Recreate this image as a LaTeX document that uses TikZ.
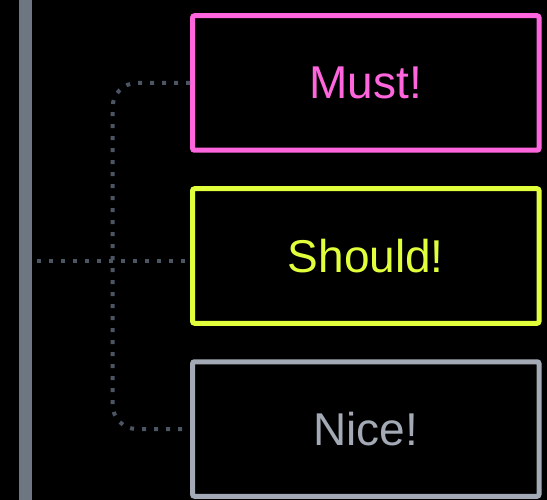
\documentclass[tikz,border=0pt]{standalone}
\usepackage{fontspec}
\setmainfont{Liberation Sans}
\usepackage{tikz}

\definecolor{mustpink}{HTML}{FF66DD}
\definecolor{shouldlime}{HTML}{E2FF3B}
\definecolor{nicegray}{HTML}{A3AAB5}
\definecolor{bargray}{HTML}{6E7681}
\definecolor{dotgray}{HTML}{4B5563}

\begin{document}
\begin{tikzpicture}
  [x=1pt,y=-1pt,
   box/.style={draw=#1, text=#1, line width=5pt, rounded corners=2pt,
     minimum width=346.5pt, minimum height=134.5pt, inner sep=0pt,
     font=\fontsize{46}{52}\selectfont},
   link/.style={draw=dotgray, line width=4pt, dash pattern=on 4pt off 8pt}]
  \fill[black] (0,0) rectangle (547,500);
  \useasboundingbox (0,0) rectangle (547,500);

  \node[fill=bargray, minimum width=13pt, minimum height=500pt, inner sep=0pt] (bar) at (25.5,250) {};

  \foreach \name/\col/\y/\txt in {must/mustpink/83/Must!,should/shouldlime/256/Should!,nice/nicegray/429/Nice!}
    \node[box=\col] (\name) at (365.8,\y) {\txt};

  \coordinate (fork) at (112.7,261.5);
  \draw[link] ([xshift=5pt]fork -| bar.east) -- (fork -| should.west);
  \draw[link, rounded corners=24pt] (must.west) -| (fork) |- (nice.west);
\end{tikzpicture}
\end{document}
